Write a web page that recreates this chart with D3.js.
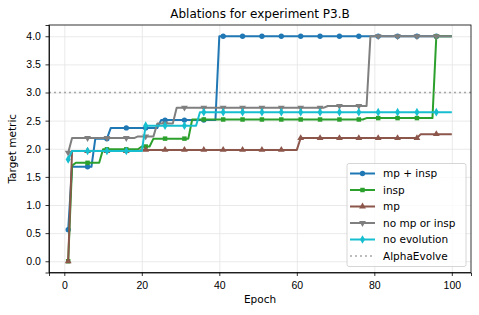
<!DOCTYPE html>
<html>
<head>
<meta charset="utf-8">
<script src="https://cdn.jsdelivr.net/npm/d3@7"></script>
<style>
  html, body { margin: 0; padding: 0; background: white; }
  svg { display: block; font-family: "DejaVu Sans", sans-serif; }
  .axis text { font-size: 10.5px; fill: #000; }
  .axis line, .axis path { stroke: #000; stroke-width: 0.8; }
  .grid line { stroke: #e5e5e5; stroke-width: 0.8; }
  .grid path { display: none; }
</style>
</head>
<body>
<div id="chart"></div>
<script>
// best-so-far metric per run, as [first epoch, value] change points
const mpInsp = [[1, 0.56], [2, 1.68], [8, 2.18], [12, 2.37], [25, 2.51], [40, 4.0]];
const insp = [[1, 0.0], [2, 1.70], [3, 1.75], [10, 1.99], [20, 2.04], [23, 2.18], [33, 2.52], [78, 2.545], [96, 4.0]];
const mp = [[1, 0.0], [2, 1.96], [20, 1.98], [61, 2.19], [92, 2.26]];
const noMpOrInsp = [[1, 1.93], [2, 2.19], [19, 2.22], [24, 2.45], [29, 2.73], [68, 2.76], [79, 4.0]];
const noEvolution = [[1, 1.81], [2, 1.96], [21, 2.41], [35, 2.65]];

const seriesNames = ['mp + insp', 'insp', 'mp', 'no mp or insp', 'no evolution'];
const seriesColors = ['#1f77b4', '#2ca02c', '#8c564b', '#7f7f7f', '#17becf'];
const alphaEvolve = 3.0;

const xTicks = [0, 20, 40, 60, 80, 100];
const yTicks = [0, 0.5, 1.0, 1.5, 2.0, 2.5, 3.0, 3.5, 4.0];
const lastEpoch = 100;

const W = 479, H = 315;
const plotL = 49, plotR = 471, plotT = 25, plotB = 272.5;

const svg = d3.select('#chart').append('svg').attr('width', W).attr('height', H);

const x = d3.scaleLinear().domain([-3.95, 104.95]).range([plotL, plotR]);
const y = d3.scaleLinear().domain([-0.2, 4.2]).range([plotB, plotT]);

// grid
svg.append('g').attr('class', 'grid')
  .attr('transform', `translate(0,${plotB})`)
  .call(d3.axisBottom(x).tickValues(xTicks).tickSize(-(plotB - plotT)).tickFormat(''));
svg.append('g').attr('class', 'grid')
  .attr('transform', `translate(${plotL},0)`)
  .call(d3.axisLeft(y).tickValues(yTicks).tickSize(-(plotR - plotL)).tickFormat(''));

// expand change points to one value per epoch
function perEpoch(steps) {
  const out = [];
  for (let e = 1; e <= lastEpoch; e++) {
    let v = steps[0][1];
    for (const s of steps) if (s[0] <= e) v = s[1];
    out.push({ epoch: e, value: v });
  }
  return out;
}

const symbols = [
  d3.symbol().type(d3.symbolCircle).size(22),
  d3.symbol().type(d3.symbolSquare).size(20),
  d3.symbol().type(d3.symbolTriangle).size(20),
  d3.symbol().type(d3.symbolTriangle).size(20),
  d3.symbol().type(d3.symbolDiamond).size(22)
];
const rotations = [0, 0, 0, 180, 0];

const line = d3.line().x(d => x(d.epoch)).y(d => y(d.value));
const allSeries = [mpInsp, insp, mp, noMpOrInsp, noEvolution];

allSeries.forEach((steps, i) => {
  const data = perEpoch(steps);
  const g = svg.append('g');
  g.append('path')
    .datum(data)
    .attr('fill', 'none')
    .attr('stroke', seriesColors[i])
    .attr('stroke-width', 2)
    .attr('stroke-linejoin', 'round')
    .attr('d', line);
  g.selectAll('path.mk')
    .data(data.filter((d, j) => j % 5 === 0))
    .enter().append('path')
    .attr('class', 'mk')
    .attr('d', symbols[i])
    .attr('fill', seriesColors[i])
    .attr('transform', d => `translate(${x(d.epoch)},${y(d.value)}) rotate(${rotations[i]})`);
});

// AlphaEvolve reference
svg.append('line')
  .attr('x1', plotL).attr('x2', plotR)
  .attr('y1', y(alphaEvolve)).attr('y2', y(alphaEvolve))
  .attr('stroke', '#a6a6a6').attr('stroke-width', 1.5)
  .attr('stroke-dasharray', '2,3');

// axes
svg.append('g').attr('class', 'axis')
  .attr('transform', `translate(0,${plotB})`)
  .call(d3.axisBottom(x).tickValues(xTicks).tickSize(3.5).tickPadding(5.5).tickFormat(d3.format('d')));
svg.append('g').attr('class', 'axis')
  .attr('transform', `translate(${plotL},0)`)
  .call(d3.axisLeft(y).tickValues(yTicks).tickSize(3.5).tickPadding(4.6).tickFormat(d3.format('.1f')));

svg.append('rect')
  .attr('x', plotL).attr('y', plotT)
  .attr('width', plotR - plotL).attr('height', plotB - plotT)
  .attr('fill', 'none').attr('stroke', '#000').attr('stroke-width', 0.8);

// labels
svg.append('text').attr('x', (plotL + plotR) / 2).attr('y', 17.5)
  .attr('text-anchor', 'middle').attr('font-size', 12).text('Ablations for experiment P3.B');
svg.append('text').attr('x', (plotL + plotR) / 2).attr('y', 303)
  .attr('text-anchor', 'middle').attr('font-size', 10.5).text('Epoch');
svg.append('text')
  .attr('transform', `translate(15.5,${(plotT + plotB) / 2}) rotate(-90)`)
  .attr('text-anchor', 'middle').attr('font-size', 10.5).text('Target metric');

// legend
const legend = svg.append('g').attr('transform', 'translate(347,163.5)');
legend.append('rect')
  .attr('width', 119).attr('height', 103).attr('rx', 2)
  .attr('fill', 'white').attr('fill-opacity', 0.8)
  .attr('stroke', '#cccccc').attr('stroke-width', 0.8);

const legendNames = seriesNames.concat(['AlphaEvolve']);
legendNames.forEach((name, i) => {
  const ly = 10 + i * 16.5;
  const row = legend.append('g').attr('transform', `translate(0,${ly})`);
  if (i < seriesNames.length) {
    row.append('line').attr('x1', 3).attr('x2', 28).attr('y1', 0).attr('y2', 0)
      .attr('stroke', seriesColors[i]).attr('stroke-width', 2);
    row.append('path').attr('d', symbols[i]).attr('fill', seriesColors[i])
      .attr('transform', `translate(15.5,0) rotate(${rotations[i]})`);
  } else {
    row.append('line').attr('x1', 3).attr('x2', 28).attr('y1', 0).attr('y2', 0)
      .attr('stroke', '#a6a6a6').attr('stroke-width', 1.5).attr('stroke-dasharray', '2,3');
  }
  row.append('text').attr('x', 36).attr('y', 0).attr('dy', '0.35em')
    .attr('font-size', 10.5).text(name);
});
</script>
</body>
</html>
